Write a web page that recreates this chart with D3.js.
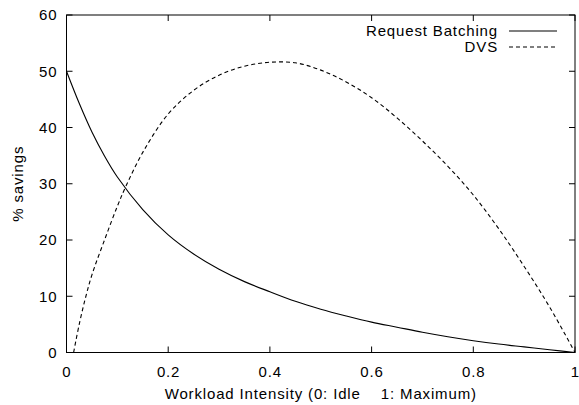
<!DOCTYPE html>
<html><head><meta charset="utf-8">
<script src="https://cdn.jsdelivr.net/npm/d3@7"></script>
<style>body{margin:0;background:#fff}svg text{font-family:"Liberation Sans",Arial,sans-serif;fill:#000;font-size:15px;letter-spacing:0.85px}</style>
</head><body><svg id="c" width="579" height="405"></svg>
<script>
const batchX = [0,0.025,0.05,0.075,0.1,0.15,0.2,0.25,0.3,0.35,0.4,0.45,0.5,0.55,0.6,0.65,0.7,0.75,0.8,0.85,0.9,0.95,1];
const batchY = [50,44.3,39.2,34.9,31.2,25.4,20.9,17.5,14.8,12.6,10.8,9.1,7.7,6.5,5.4,4.5,3.6,2.8,2.1,1.5,1.0,0.5,0];
const dvsX = [0.014,0.025,0.037,0.05,0.076,0.1,0.116,0.152,0.2,0.25,0.3,0.35,0.4,0.45,0.5,0.55,0.6,0.65,0.7,0.75,0.8,0.85,0.9,0.95,1];
const dvsY = [0,5.0,9.6,13.8,20.3,26.0,29.4,35.9,42.4,46.6,49.3,50.9,51.6,51.5,50.2,48.1,45.3,41.7,37.6,33.1,28.0,22.0,15.3,8.1,0];
const xTicks = [0,0.2,0.4,0.6,0.8,1];
const yTicks = [0,10,20,30,40,50,60];
const seriesNames = ["Request Batching","DVS"];

const svg = d3.select("#c");
const L=66.5, R=575, T=15, B=352.5;
const x = d3.scaleLinear().domain([0,1]).range([L,R]);
const y = d3.scaleLinear().domain([0,60]).range([B,T]);
const tk = 6;

const g = svg.append("g");
xTicks.forEach(v=>{
  g.append("line").attr("x1",x(v)).attr("x2",x(v)).attr("y1",B).attr("y2",B-tk).attr("stroke","#000");
  g.append("line").attr("x1",x(v)).attr("x2",x(v)).attr("y1",T).attr("y2",T+tk).attr("stroke","#000");
  g.append("text").attr("x",x(v)+0.4).attr("y",377).attr("text-anchor","middle").text(d3.format("~g")(v));
});
yTicks.forEach(v=>{
  g.append("line").attr("x1",L).attr("x2",L+tk).attr("y1",y(v)).attr("y2",y(v)).attr("stroke","#000");
  g.append("line").attr("x1",R).attr("x2",R-tk).attr("y1",y(v)).attr("y2",y(v)).attr("stroke","#000");
  g.append("text").attr("x",57.5).attr("y",y(v)+5.4).attr("text-anchor","end").text(v);
});
g.append("rect").attr("x",L).attr("y",T).attr("width",R-L).attr("height",B-T).attr("fill","none").attr("stroke","#000").attr("stroke-width",1);

const line = d3.line().x(d=>x(d[0])).y(d=>y(d[1])).curve(d3.curveCatmullRom.alpha(0.5));
svg.append("path").datum(d3.zip(batchX,batchY)).attr("d",line).attr("fill","none").attr("stroke","#000").attr("stroke-width",1.1);
svg.append("path").datum(d3.zip(dvsX,dvsY)).attr("d",line).attr("fill","none").attr("stroke","#000").attr("stroke-width",1.1).attr("stroke-dasharray","4,3");

const leg = [[31,null],[47,"4,3"]];
seriesNames.forEach((n,i)=>{
  svg.append("text").attr("x",498).attr("y",leg[i][0]+5.4).attr("text-anchor","end").text(n);
  const l = svg.append("line").attr("x1",509).attr("x2",557).attr("y1",leg[i][0]).attr("y2",leg[i][0]).attr("stroke","#000").attr("stroke-width",1.1);
  if(leg[i][1]) l.attr("stroke-dasharray",leg[i][1]);
});

svg.append("text").attr("x",(L+R)/2).attr("y",399).attr("text-anchor","middle").attr("xml:space","preserve").style("white-space","pre").text("Workload Intensity (0: Idle    1: Maximum)");
svg.append("text").attr("transform",`translate(23,${(T+B)/2}) rotate(-90)`).attr("text-anchor","middle").text("% savings");
</script></body></html>
